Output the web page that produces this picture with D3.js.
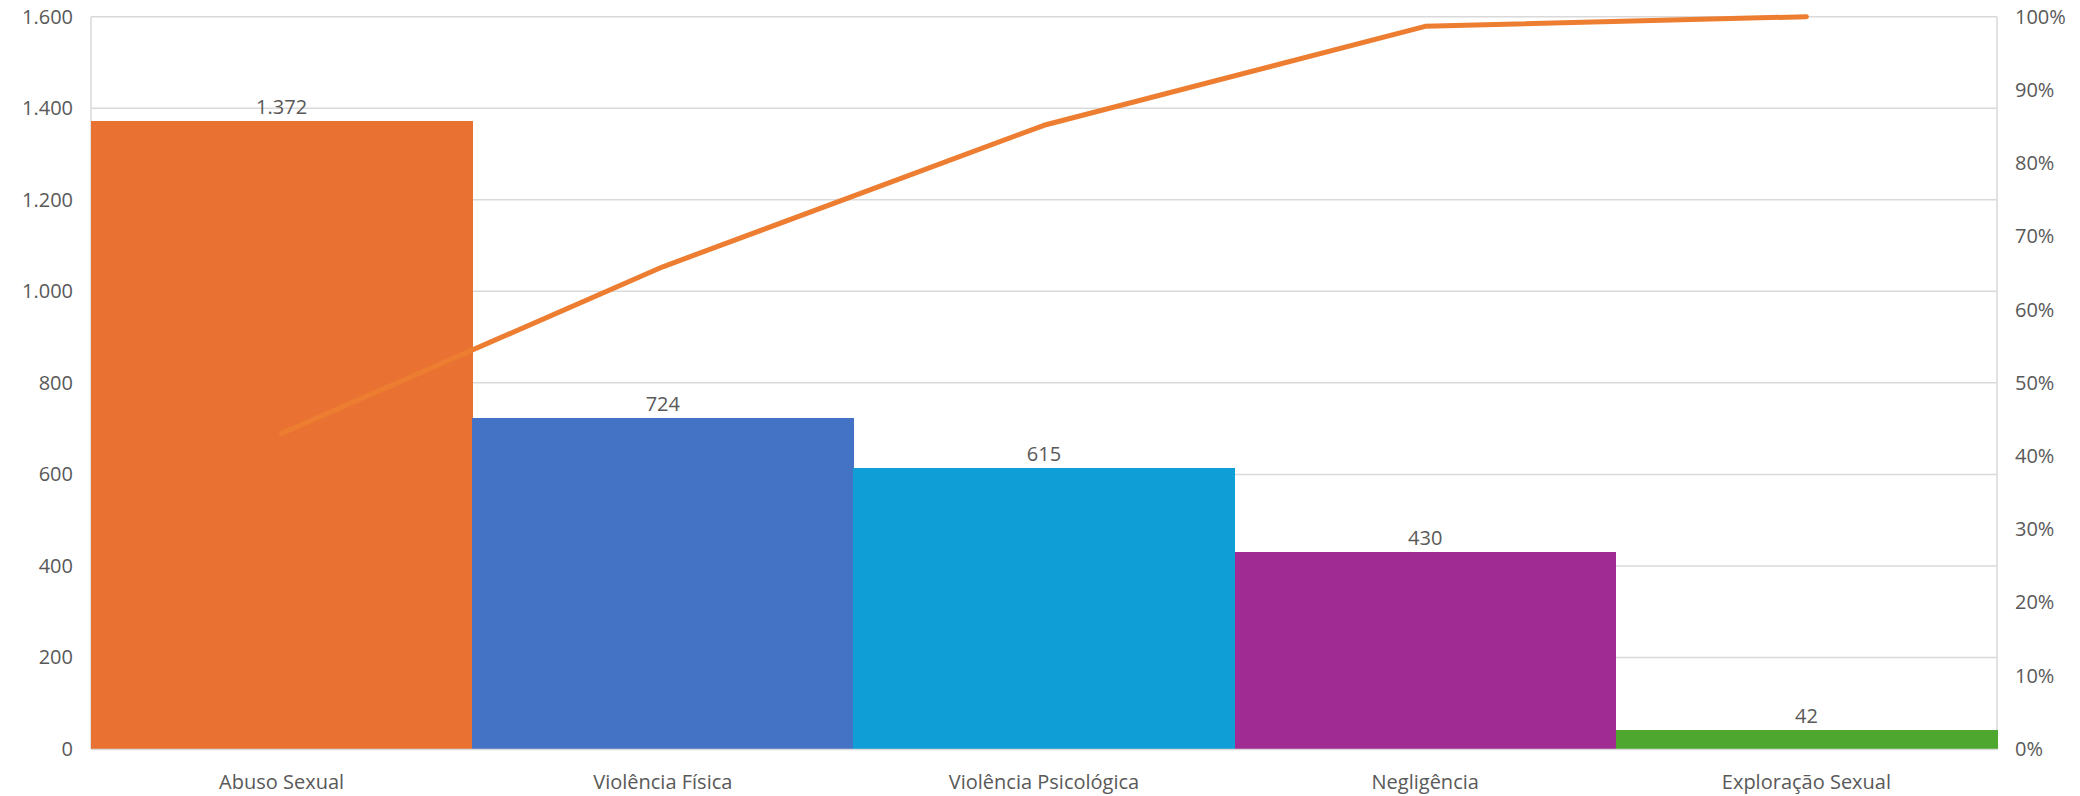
<!DOCTYPE html>
<html><head><meta charset="utf-8">
<script src="https://cdn.jsdelivr.net/npm/d3@7"></script>
<style>body{margin:0;background:#fff}text{font-family:"Open Sans","Liberation Sans",sans-serif;fill:#595959}</style>
</head><body><svg id="c" width="2080" height="796"></svg>
<script>
const categories = ["Abuso Sexual","Violência Física","Violência Psicológica","Negligência","Exploração Sexual"];
const values = [1372,724,615,430,42];
const colors = ["#E97132","#4472C4","#0F9ED5","#A02B93","#4EA72E"];
const leftTicks = [0,200,400,600,800,1000,1200,1400,1600];
const rightTicks = [0,0.1,0.2,0.3,0.4,0.5,0.6,0.7,0.8,0.9,1.0];

const total = d3.sum(values);
let acc = 0;
const cumulative = values.map(v => (acc += v) / total);

const svg = d3.select("#c");
const m = {l:91, r:2080-1997, t:16.7, b:796-749};
const W = 2080, H = 796;
const x = d3.scaleBand().domain(categories).range([m.l, W-m.r]).padding(0);
const y = d3.scaleLinear().domain([0,1600]).range([H-m.b, m.t]);
const y2 = d3.scaleLinear().domain([0,1]).range([H-m.b, m.t]);
const fmt = d => d3.format(",")(d).replace(/,/g,".");

// gridlines
svg.append("g").selectAll("line").data(leftTicks).join("line")
  .attr("x1", m.l).attr("x2", W-m.r).attr("y1", d=>y(d)).attr("y2", d=>y(d))
  .attr("stroke", "#d9d9d9").attr("stroke-width", 1.5);
// vertical frame lines
svg.append("line").attr("x1", m.l).attr("x2", m.l).attr("y1", y(1600)).attr("y2", y(0)).attr("stroke","#d9d9d9").attr("stroke-width",1.5);
svg.append("line").attr("x1", W-m.r).attr("x2", W-m.r).attr("y1", y(1600)).attr("y2", y(0)).attr("stroke","#d9d9d9").attr("stroke-width",1.5);

// bars
svg.append("g").attr("shape-rendering","crispEdges").selectAll("rect").data(values).join("rect")
  .attr("x", (d,i)=>x(categories[i])).attr("width", x.bandwidth()+0.5)
  .attr("y", d=>y(d)).attr("height", d=>y(0)-y(d)).attr("fill", (d,i)=>colors[i]);

// bar labels
svg.append("g").selectAll("text").data(values).join("text")
  .attr("x", (d,i)=>x(categories[i])+x.bandwidth()/2).attr("y", d=>y(d)-7)
  .attr("text-anchor","middle").attr("font-size",20).text(d=>fmt(d));

// left axis
const ax = d3.axisLeft(y).tickValues(leftTicks).tickSize(0).tickPadding(18).tickFormat(fmt);
const gl = svg.append("g").attr("transform",`translate(${m.l},0)`).call(ax);
gl.select(".domain").remove();
gl.selectAll("text").attr("font-size",20).attr("fill","#595959").style("font-family",'"Open Sans","Liberation Sans",sans-serif');

// right axis
const ax2 = d3.axisRight(y2).tickValues(rightTicks).tickSize(0).tickPadding(18).tickFormat(d3.format(".0%"));
const gr = svg.append("g").attr("transform",`translate(${W-m.r},0)`).call(ax2);
gr.select(".domain").remove();
gr.selectAll("text").attr("font-size",20).attr("fill","#595959").style("font-family",'"Open Sans","Liberation Sans",sans-serif');

// bottom axis
const ax3 = d3.axisBottom(x).tickSize(0).tickPadding(26);
const gb = svg.append("g").attr("transform",`translate(0,${y(0)})`).call(ax3);
gb.select(".domain").attr("stroke","#d9d9d9").attr("stroke-width",1.5);
gb.selectAll("text").attr("font-size",20).attr("fill","#595959").style("font-family",'"Open Sans","Liberation Sans",sans-serif');

// pareto line
const line = d3.line().x((d,i)=>x(categories[i])+x.bandwidth()/2).y(d=>y2(d));
svg.append("path").datum(cumulative).attr("d", line).attr("fill","none")
  .attr("stroke","#ED7D31").attr("stroke-width",5).attr("stroke-linecap","round").attr("stroke-linejoin","round");
</script></body></html>
